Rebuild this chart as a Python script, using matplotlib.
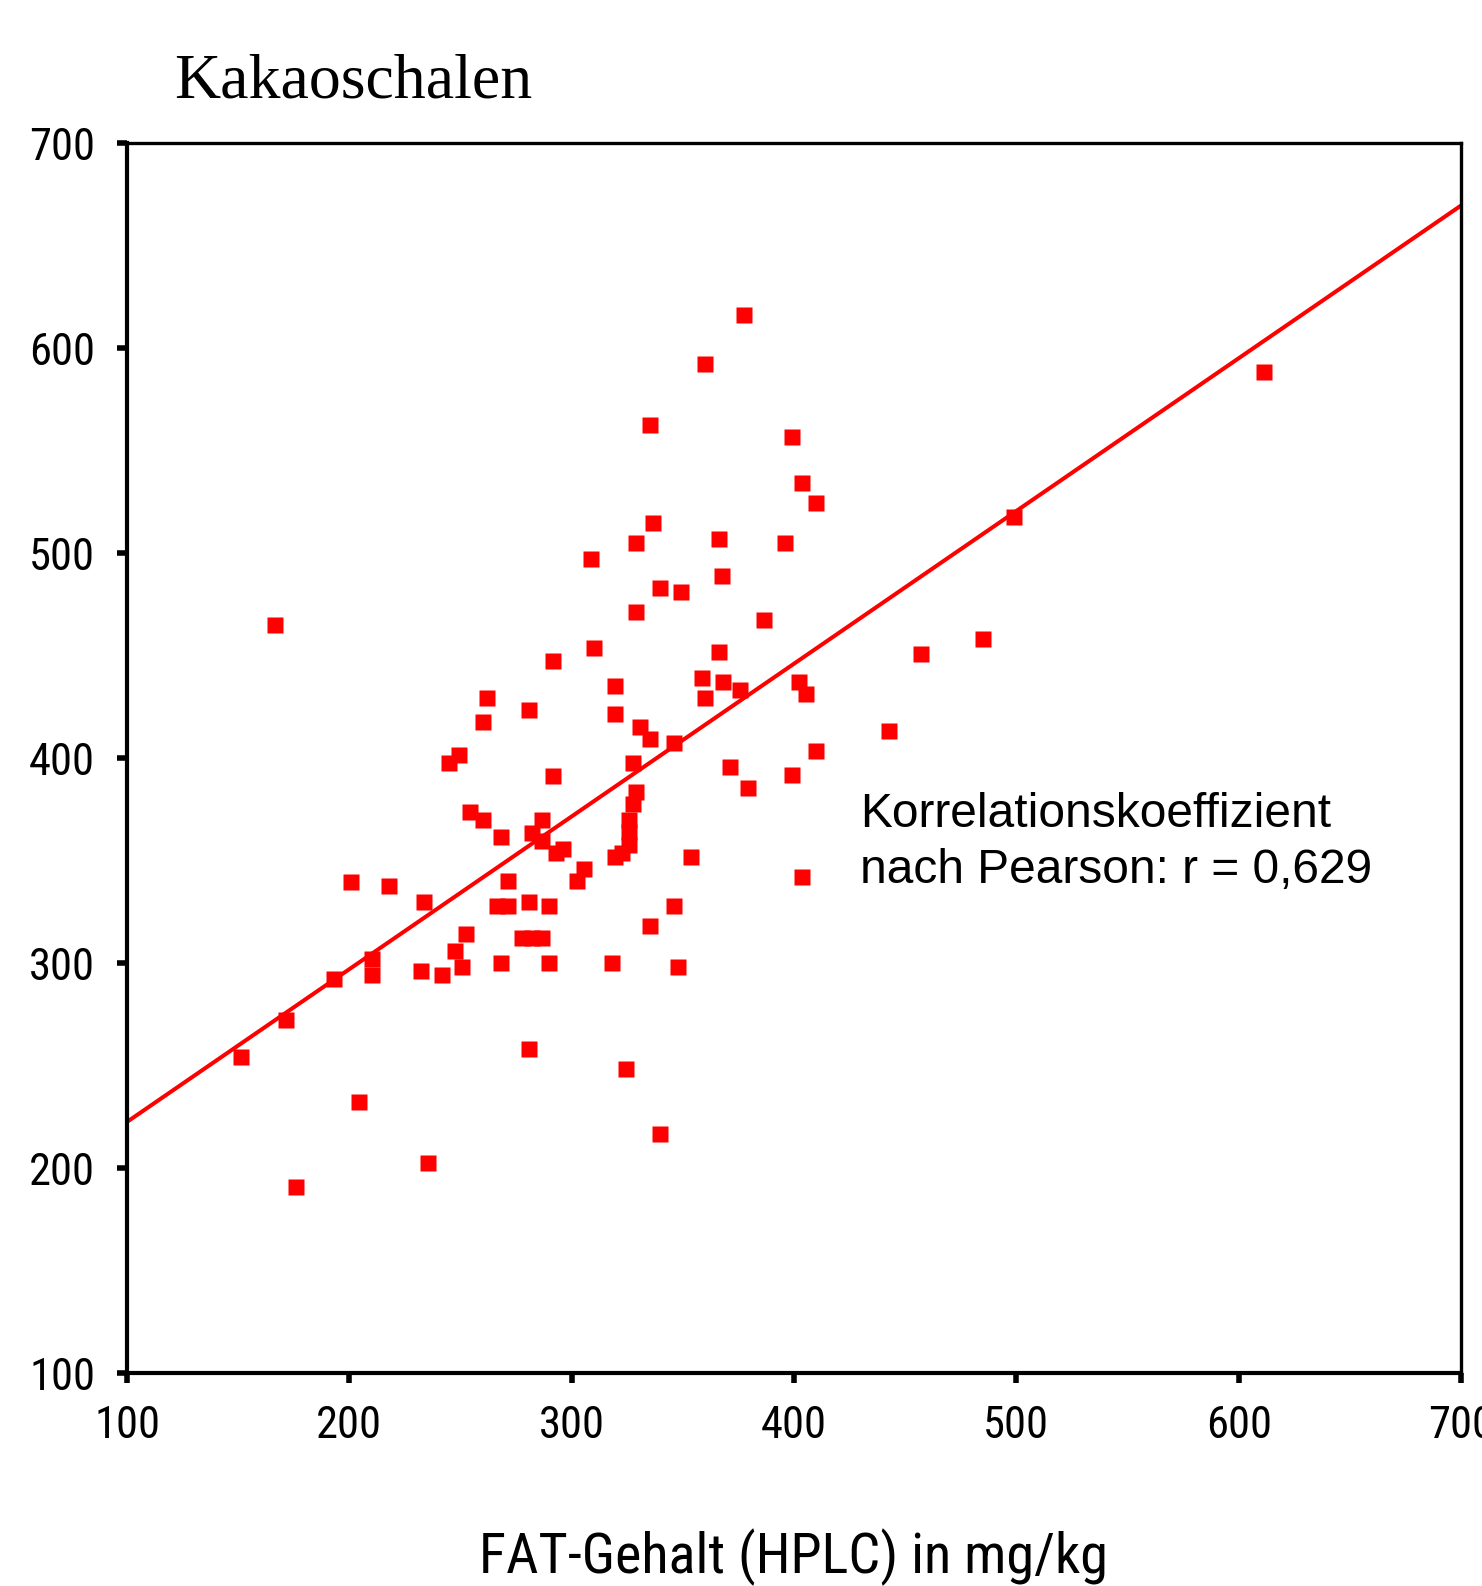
import matplotlib
matplotlib.use("Agg")
import matplotlib.pyplot as plt
from matplotlib import font_manager as fm

# FAT-Gehalt (HPLC), mg/kg  -> x
fat_hplc = [
    291.6, 310.2, 366.3, 261.9, 280.6, 319.6, 358.6, 367.9, 375.9, 360.1,
    260.2, 319.6, 330.6, 335.2, 346.0, 371.1, 379.3, 249.4, 244.8, 291.6,
    327.4, 328.9, 327.4, 325.9, 325.9, 325.9, 322.8, 319.6, 254.1, 260.2,
    268.0, 286.8, 282.1, 286.8, 293.1, 296.2, 305.5, 302.4, 353.8, 271.3,
    233.7, 266.5, 271.3, 280.6, 289.9, 346.0, 335.2, 252.6, 247.7, 250.9,
    277.6, 282.1, 286.8, 232.2, 241.6, 268.0, 289.9, 318.0, 347.7,
    377.4, 360.1, 335.2, 399.1, 403.8, 410.1, 336.7, 328.9, 366.3, 396.0,
    308.7, 367.8, 339.9, 349.2, 328.9, 386.7,
    166.6, 200.9, 218.0, 210.4, 210.4, 193.2,
    171.4, 151.1, 204.2, 176.1, 235.3, 280.6, 324.4, 339.9,
    611.5, 499.1, 485.1, 457.0, 402.3, 405.4, 442.9, 410.1, 399.3, 403.8,
]

# Vergleichswert, mg/kg -> y
fat_other = [
    447.3, 453.5, 451.7, 429.4, 423.3, 435.3, 439.2, 437.2, 433.2, 429.1,
    417.4, 421.3, 415.3, 409.4, 407.5, 395.5, 385.5, 401.5, 397.4, 391.4,
    397.4, 383.6, 377.6, 369.8, 363.9, 357.6, 353.8, 351.6, 373.5, 369.6,
    361.6, 369.6, 363.6, 359.7, 353.7, 355.6, 345.7, 339.9, 351.7, 339.9,
    329.8, 328.0, 328.0, 329.8, 328.0, 328.0, 317.9, 314.0, 306.0, 298.0,
    312.0, 312.0, 312.0, 296.1, 294.1, 300.1, 300.1, 300.1, 298.0,
    616.1, 592.3, 562.4, 556.6, 534.1, 524.6, 514.8, 504.9, 506.8, 504.9,
    496.9, 488.9, 482.9, 481.0, 471.1, 467.1,
    465.0, 339.7, 337.7, 302.0, 294.1, 292.2,
    272.2, 254.3, 232.3, 190.6, 202.6, 258.2, 248.3, 216.4,
    588.2, 517.6, 458.3, 450.6, 437.2, 431.2, 413.2, 403.4, 391.6, 341.8,
]

line_x = [100, 700]
line_y = [222.5, 669.5]

ticks = [100, 200, 300, 400, 500, 600, 700]
tick_labels = [str(t) for t in ticks]


def narrow_font():
    # the original axis texts use a narrow sans (Arial Narrow style)
    regular = ("400", "normal", "regular", "book")
    fonts = [f for f in fm.fontManager.ttflist
             if f.style == "normal" and str(f.weight).lower() in regular]
    for name in ["Liberation Sans Narrow", "Arial Narrow", "Roboto Condensed",
                 "Open Sans Condensed", "Noto Sans Condensed"]:
        for f in fonts:
            if f.name == name:
                return f.fname
    for f in fonts:
        if f.stretch in ("condensed", "semi-condensed") or "Condensed" in f.name:
            return f.fname
    return None


narrow_path = narrow_font()


def axis_font(size):
    if narrow_path:
        return fm.FontProperties(fname=narrow_path, size=size)
    return fm.FontProperties(family="Liberation Sans", size=size * 0.85)


fig = plt.figure(figsize=(14.82, 15.86), dpi=100)
ax = fig.add_axes([0.0857, 0.1343, 0.9001, 0.7755])

ax.plot(line_x, line_y, color="#ff0000", lw=2.9, zorder=2)
ax.plot(fat_hplc, fat_other, ls="none", marker="s", ms=11.5,
        mfc="#ff0000", mec="none", zorder=3)

ax.set_xlim(100, 700)
ax.set_ylim(100, 700)
ax.set_xticks(ticks)
ax.set_yticks(ticks)
ax.set_xticklabels(tick_labels)
ax.set_yticklabels(tick_labels)
for lbl in ax.get_xticklabels() + ax.get_yticklabels():
    lbl.set_fontproperties(axis_font(32))
ax.tick_params(axis="x", direction="out", length=7, width=4, pad=16)
ax.tick_params(axis="y", direction="out", length=7, width=4, pad=16)

for side in ["left", "bottom"]:
    ax.spines[side].set_linewidth(3.0)
for side in ["top", "right"]:
    ax.spines[side].set_linewidth(2.4)

fig.text(0.1174, 1 - 97 / 1586, "Kakaoschalen", family="Liberation Serif",
         fontsize=46, va="baseline")
fig.text(860 / 1482, 1 - 827 / 1586, "Korrelationskoeffizient",
         family="Liberation Sans", fontsize=34.5, va="baseline")
fig.text(860 / 1482, 1 - 883 / 1586, "nach Pearson: r = 0,629",
         family="Liberation Sans", fontsize=34.5, va="baseline")
fig.text(794 / 1482, 1 - 1573 / 1586, "FAT-Gehalt (HPLC) in mg/kg",
         fontproperties=axis_font(40.5), ha="center", va="baseline")

fig.savefig("out.png", dpi=100)
